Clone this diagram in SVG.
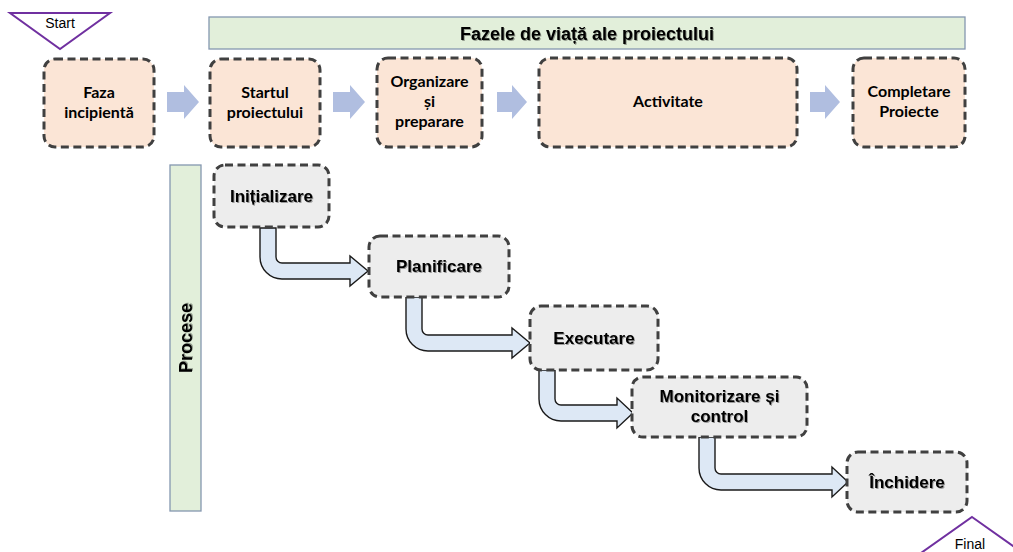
<svg xmlns="http://www.w3.org/2000/svg" width="1013" height="552" viewBox="0 0 1013 552">
<defs>
<style>
.phase{fill:#fbe5d6;stroke:#404040;stroke-width:3;stroke-dasharray:8 4.5}
.proc{fill:#ededed;stroke:#404040;stroke-width:3;stroke-dasharray:8 4.5}
.pt{font-family:Lato,"Liberation Sans",sans-serif;font-weight:bold;font-size:16px;fill:#000;text-anchor:middle}
.prt{font-family:"Liberation Sans",Arial,sans-serif;font-weight:bold;font-size:17px;fill:#000;text-anchor:middle;filter:url(#sh)}
.band{fill:#e2efda;stroke:#8497b0;stroke-width:1.3}
.blk{fill:#b0bee0}
.bent{fill:#dde8f5;stroke:#1a1a1a;stroke-width:1.4;stroke-linejoin:miter}
.tri{fill:#fff;stroke:#7030a0;stroke-width:2}
.small{font-family:"Liberation Sans",Arial,sans-serif;font-size:14px;fill:#000;text-anchor:middle}
</style>
<filter id="sh" x="-10%" y="-20%" width="130%" height="160%">
<feDropShadow dx="1" dy="1" stdDeviation="0.6" flood-color="#000" flood-opacity="0.35"/>
</filter>
</defs>

<g id="start">
<polygon class="tri" points="10,13 110,13 60,49"/>
<text class="small" x="60" y="28">Start</text>
</g>

<g id="header">
<rect class="band" x="209" y="17" width="756" height="32"/>
<text class="prt" x="587" y="39.5" style="font-size:18px">Fazele de viață ale proiectului</text>
</g>

<g id="procese-band">
<rect class="band" x="170" y="165" width="31" height="346"/>
<text class="prt" transform="translate(192,338) rotate(-90)" x="0" y="0" style="font-size:18px">Procese</text>
</g>

<g id="connectors">
<polygon class="blk" points="167,92 184,92 184,85 199,102 184,119 184,112 167,112"/>
<polygon class="blk" points="333,92 350,92 350,85 365,102 350,119 350,112 333,112"/>
<polygon class="blk" points="497,92 512,92 512,85 527,102 512,119 512,112 497,112"/>
<polygon class="blk" points="810,92 825,92 825,85 840,102 825,119 825,112 810,112"/>

<path class="bent" d="M260,228 L260,257 A22,22 0 0 0 282,279 L350,279 L350,286 L368,271 L350,256 L350,263 L282,263 A6,6 0 0 1 276,257 L276,228 Z"/>
<path class="bent" d="M406,297 L406,329 A22,22 0 0 0 428,351 L512,351 L512,358 L530,343 L512,328 L512,335 L428,335 A6,6 0 0 1 422,329 L422,297 Z"/>
<path class="bent" d="M539,370 L539,399 A22,22 0 0 0 561,421 L617,421 L617,428 L633,413 L617,398 L617,405 L561,405 A6,6 0 0 1 555,399 L555,370 Z"/>
<path class="bent" d="M699,437 L699,468 A22,22 0 0 0 721,490 L832,490 L832,497 L848,482 L832,467 L832,474 L721,474 A6,6 0 0 1 715,468 L715,437 Z"/>
</g>

<g id="faza-incipienta">
<rect class="phase" x="44" y="59" width="110" height="88" rx="11"/>
<text class="pt" x="99" y="98">Faza</text>
<text class="pt" x="99" y="118">incipientă</text>
</g>

<g id="startul-proiectului">
<rect class="phase" x="210" y="59" width="110" height="88" rx="11"/>
<text class="pt" x="265" y="98">Startul</text>
<text class="pt" x="265" y="118">proiectului</text>
</g>

<g id="organizare">
<rect class="phase" x="377" y="58" width="105" height="89" rx="11"/>
<text class="pt" x="429.5" y="87">Organizare</text>
<text class="pt" x="429.5" y="107">și</text>
<text class="pt" x="429.5" y="127">preparare</text>
</g>

<g id="activitate">
<rect class="phase" x="539" y="58" width="258" height="89" rx="11"/>
<text class="pt" x="668" y="107">Activitate</text>
</g>

<g id="completare">
<rect class="phase" x="853" y="58" width="112" height="89" rx="11"/>
<text class="pt" x="909" y="97">Completare</text>
<text class="pt" x="909" y="117">Proiecte</text>
</g>

<g id="initializare">
<rect class="proc" x="214" y="165" width="115" height="62" rx="11"/>
<text class="prt" x="271.5" y="202">Inițializare</text>
</g>

<g id="planificare">
<rect class="proc" x="369" y="236" width="140" height="61" rx="11"/>
<text class="prt" x="439" y="272">Planificare</text>
</g>

<g id="executare">
<rect class="proc" x="530" y="306" width="128" height="64" rx="11"/>
<text class="prt" x="594" y="344">Executare</text>
</g>

<g id="monitorizare">
<rect class="proc" x="632" y="377" width="175" height="60" rx="11"/>
<text class="prt" x="719.5" y="402">Monitorizare și</text>
<text class="prt" x="719.5" y="422">control</text>
</g>

<g id="inchidere">
<rect class="proc" x="847" y="452" width="120" height="60" rx="11"/>
<text class="prt" x="907" y="488">Închidere</text>
</g>

<g id="final">
<polygon class="tri" points="972,517 1023,553 921,553"/>
<text class="small" x="970" y="549">Final</text>
</g>
</svg>
